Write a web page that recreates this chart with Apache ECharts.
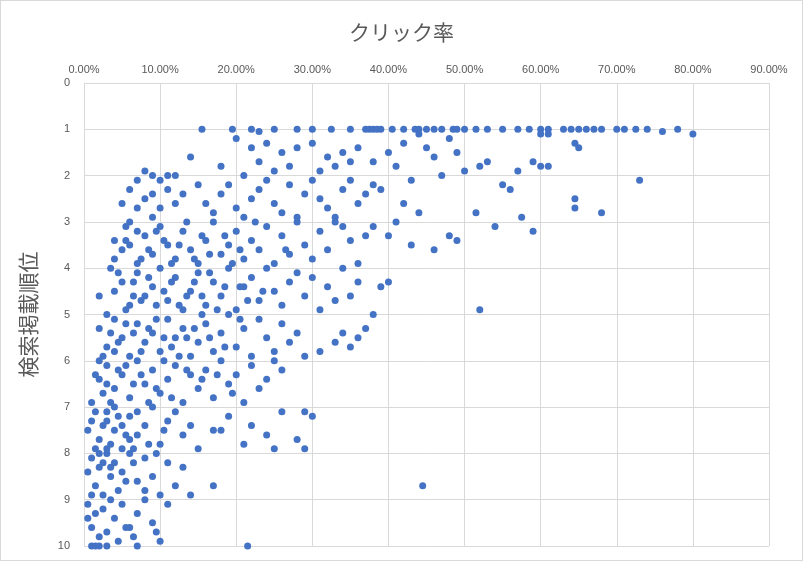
<!DOCTYPE html>
<html><head><meta charset="utf-8">
<script src="https://cdn.jsdelivr.net/npm/echarts@6/dist/echarts.min.js"></script>
<style>html,body{margin:0;padding:0;background:#fff}#c{width:803px;height:561px;box-sizing:border-box;border:1px solid #d9d9d9}</style>
</head><body><div id="c"></div>
<script>
// [クリック率(%), 検索掲載順位]
const rank1 = [[15.5,1],[19.5,1],[22,1],[23,1.05],[25,1],[28,1],[30,1],[32.5,1],[35,1],[37,1],[37.5,1],[38,1],[38.5,1],[39,1],[40.5,1],[42,1],[43.5,1],[44,1],[45,1],[46,1],[47,1],[48.5,1],[49,1],[50,1],[51.5,1],[53,1],[55,1],[57,1],[58.5,1],[60,1],[61,1],[63,1],[64,1],[65,1],[66,1],[67,1],[68,1],[70,1],[71,1],[72.5,1],[74,1],[76,1.05],[78,1],[80,1.1]];
const farRight = [[60,1.1],[61,1.1],[64.5,1.3],[65,1.4],[59,1.7],[60,1.8],[61,1.8],[57,1.9],[55,2.2],[56,2.3],[73,2.1],[64.5,2.5],[64.5,2.7],[68,2.8],[57.5,2.9],[59,3.2],[54,3.1],[51.5,2.8],[52,4.9],[44.5,8.7],[46,3.6],[49,3.4],[48,3.3],[47,2.0],[50,1.9],[52,1.8],[53,1.7],[49,1.5],[45,1.4],[46,1.6],[48,1.2],[44,1.1],[42,1.3],[40,1.5],[38,1.7],[41,1.8],[43,2.1],[39,2.3],[42,2.6],[44,2.8],[41,3.0],[40,3.3],[43,3.5],[38,3.1],[39,4.4],[40,4.3],[38,5.0],[37,5.3],[36,5.5],[34,5.4],[35,5.7],[33,5.6],[31,5.8],[30,7.2],[29,7.1],[28,7.7],[29,7.9],[25,7.9],[21,7.8],[21.5,10],[18,7.5],[17,8.7],[14,8.9]];
const band1to3 = [[20,1.2],[22,1.4],[24,1.3],[26,1.5],[28,1.4],[30,1.3],[32,1.6],[34,1.5],[36,1.4],[31,1.9],[33,1.8],[35,1.7],[27,1.8],[25,1.9],[23,1.7],[21,2.0],[18,1.8],[14,1.6],[12,2.0],[11,2.0],[10,2.1],[9,2.0],[8,1.9],[7,2.1],[6,2.3],[11,2.3],[9,2.4],
  [5,2.6],[7,2.7],[8,2.5],[9,2.9],[10,2.7],[12,2.6],[13,2.4],[15,2.2],[16,2.6],[17,2.8],[18,2.4],[19,2.2],[20,2.7],[21,2.9],[22,2.5],[23,2.3],[24,2.1],[25,2.6],[26,2.8],[27,2.2],[28,2.9],[29,2.4],[30,2.1],[31,2.5],[32,2.7],[33,2.9],[34,2.3],[35,2.1],[36,2.6],[37,2.4],[38,2.2],[6,3.0],[7,3.2],[5.5,3.1],[4,3.4]];
const band3to5 = [[4,3.8],[5,3.6],[6,3.5],[7,3.9],[8,3.3],[9,3.7],[10,3.1],[11,3.5],[12,3.8],[13,3.2],[14,3.6],[15,3.9],[16,3.4],[17,3.0],[18,3.7],[19,3.5],[20,3.2],[21,3.8],[22,3.4],[23,3.6],[24,3.1],[25,3.9],[26,3.3],[27,3.7],[28,3.0],[29,3.5],[30,3.8],[31,3.2],[32,3.6],[33,3.0],[34,3.1],[35,3.4],[36,3.9],[37,3.3],[7.5,3.8],[9.5,3.2],[11.5,3.9],[13.5,3.0],[16.5,3.7],[19.5,3.9],[22.5,3.0],[26.5,3.6],
  [3.5,4.0],[4,4.5],[5,4.3],[6,4.8],[7,4.1],[8,4.6],[9,4.4],[10,4.0],[11,4.7],[12,4.2],[13,4.9],[14,4.5],[15,4.1],[16,4.8],[17,4.3],[18,4.6],[19,4.0],[20,4.9],[21,4.4],[22,4.2],[23,4.7],[24,4.0],[25,4.5],[26,4.8],[27,4.3],[28,4.1],[29,4.6],[30,4.2],[31,4.9],[32,4.4],[33,4.7],[34,4.0],[35,4.6],[36,4.3],[5.5,4.9],[8.5,4.2],[10.5,4.5],[12.5,4.8],[14.5,4.3],[17.5,4.9],[20.5,4.4],[23.5,4.5],[6.5,4.6],[2,4.6]];
const band5to7 = [[2,5.3],[3,5.7],[4,5.1],[5,5.5],[6,5.9],[7,5.2],[8,5.6],[9,5.4],[10,5.8],[11,5.1],[12,5.5],[13,5.3],[14,5.9],[15,5.6],[16,5.2],[17,5.8],[18,5.4],[19,5.0],[20,5.7],[21,5.3],[22,5.9],[23,5.1],[24,5.5],[25,5.8],[26,5.2],[27,5.6],[28,5.4],[29,5.9],[3.5,5.4],[5.5,5.2],[7.5,5.8],[9.5,5.1],[11.5,5.7],[13.5,5.5],[15.5,5.0],[2.5,5.9],[4.5,5.6],
  [1,6.9],[2,6.4],[3,6.1],[4,6.6],[5,6.3],[6,6.8],[7,6.0],[8,6.5],[9,6.2],[10,6.7],[11,6.4],[12,6.1],[13,6.9],[14,6.3],[15,6.6],[16,6.2],[17,6.8],[18,6.0],[19,6.5],[20,6.3],[21,6.9],[22,6.1],[23,6.6],[24,6.4],[25,6.0],[26,6.2],[2.5,6.7],[3.5,6.9],[4.5,6.2],[6.5,6.5],[8.5,6.9],[10.5,6.0],[1.5,6.3]];
const band7to10 = [[1,7.3],[2,7.7],[3,7.1],[4,7.5],[5,7.9],[6,7.2],[7,7.6],[8,7.4],[9,7.0],[10,7.8],[11,7.3],[12,7.1],[13,7.6],[14,7.4],[15,7.9],[17,7.5],[19,7.2],[22,7.4],[24,7.6],[26,7.1],[1.5,7.9],[2.5,7.4],[3.5,7.8],[4.5,7.2],[5.5,7.6],[6.5,7.9],[0.5,7.5],
  [0.5,8.4],[1,8.1],[1.5,8.7],[2,8.3],[2.5,8.9],[3,8.0],[3.5,8.5],[4,8.2],[4.5,8.8],[5,8.4],[6,8.0],[7,8.6],[8,8.1],[9,8.5],[10,8.9],[11,8.2],[12,8.7],[13,8.3],[9.5,8.0],[2,8.0],[3,7.9],
  [0.5,9.1],[1,9.6],[1.5,9.3],[2,9.8],[2.5,9.2],[3,9.7],[4,9.4],[4.5,9.9],[5,9.1],[6,9.6],[7,9.3],[8,9.0],[9,9.5],[10,9.9],[11,9.1],[1,10],[2,10],[3,10],[7,10],[0.5,9.4],[1.5,10]];
const denseLeft = [[5.5,3.4],[8.5,3.6],[10.5,3.4],[12.5,3.5],[14.5,3.8],[15.5,3.3],[18.5,3.3],[20.5,3.6],[4.5,4.1],[6.5,4.3],[7.5,4.7],[9.5,4.8],[11.5,4.3],[13.5,4.6],[15.5,4.6],[16.5,4.1],[18.5,4.4],[21.5,4.7],[3,5.0],[4,5.8],[6.5,5.4],[8.5,5.3],[10.5,5.5],[12.5,5.9],[14.5,5.3],[16.5,5.5],[18.5,5.7],[20.5,5.1],[2,6.0],[3,6.5],[5.5,6.1],[7.5,6.3],[9.5,6.6],[11.5,6.8],[13.5,6.2],[15.5,6.4],[17.5,6.3],[19.5,6.7],[1.5,7.1],[3,7.3],[4,7.0],[5,7.4],[6,7.7],[7,7.1],[8.5,7.8],[10.5,7.5],[2.5,8.2],[3.5,8.3],[5.5,8.6],[6.5,8.2],[8,8.8],[1,8.9],[3.5,9.0],[5.5,9.6],[6.5,9.8],[9.5,9.7]];
const points = [].concat(rank1, farRight, band1to3, band3to5, band5to7, band7to10, denseLeft);

const chart = echarts.init(document.getElementById('c'));
const gray = '#595959', grid = '#d9d9d9';
chart.setOption({
  animation: false,
  title: { text: 'クリック率', left: 'center', top: 16, textStyle: { color: gray, fontSize: 21, fontWeight: 'normal', fontFamily: 'Noto Sans CJK JP' } },
  grid: { left: 83, right: 33, top: 82, bottom: 14 },
  xAxis: { type: 'value', position: 'top', min: 0, max: 90, interval: 10,
    axisLine: { show: false }, axisTick: { show: false },
    axisLabel: { color: gray, fontSize: 11, formatter: v => v.toFixed(2) + '%' },
    splitLine: { lineStyle: { color: grid } } },
  yAxis: { type: 'value', inverse: true, min: 0, max: 10, interval: 1,
    name: '検索掲載順位', nameLocation: 'middle', nameRotate: 90, nameGap: 45,
    nameTextStyle: { color: gray, fontSize: 21, fontFamily: 'Noto Sans CJK JP' },
    axisLine: { show: true, lineStyle: { color: grid } }, axisTick: { show: false },
    axisLabel: { color: gray, fontSize: 11, margin: 14 },
    splitLine: { lineStyle: { color: grid } } },
  series: [{ type: 'scatter', data: points, symbolSize: 7, itemStyle: { color: '#4472C4', opacity: 1 } }]
});
</script></body></html>
